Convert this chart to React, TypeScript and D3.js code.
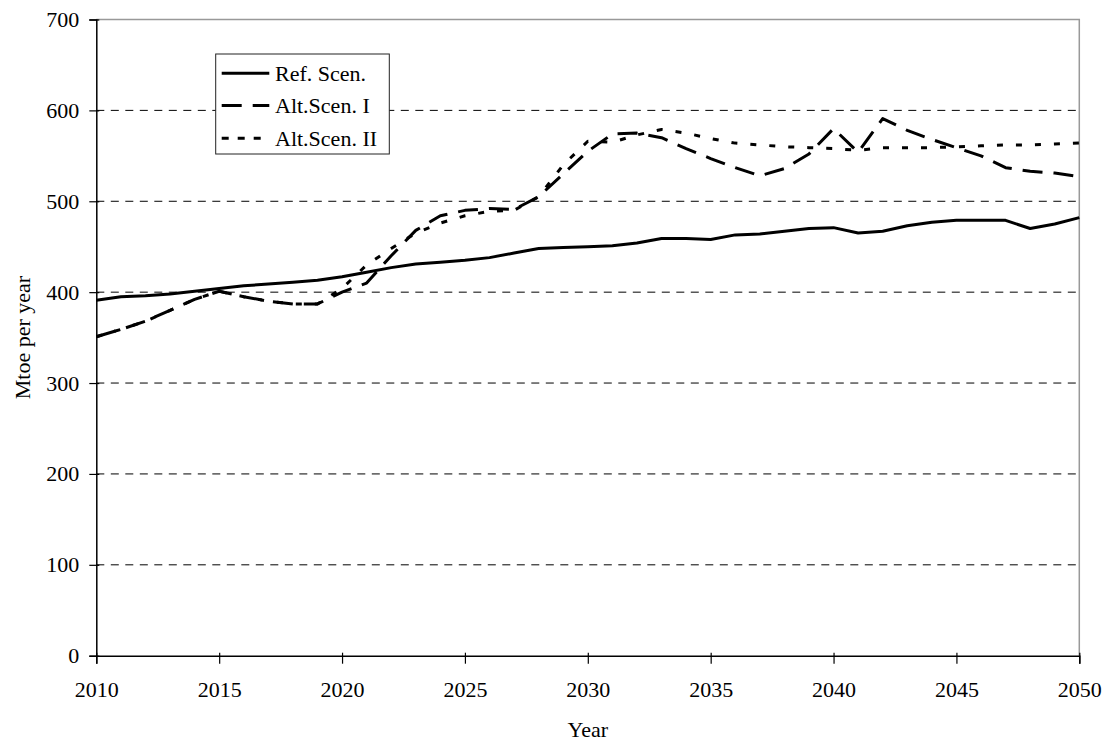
import { useRef, useEffect } from "react";
import * as d3 from "d3";

// Years on the x axis, one value per year
const years: number[] = d3.range(2010, 2051);

// Ref. Scen. (solid)
const refScen: number[] = [
  391, 395, 396, 398, 401, 404, 407, 409, 411, 413,
  417, 422, 427, 431, 433, 435, 438, 443, 448, 449,
  450, 451, 454, 459, 459, 458, 463, 464, 467, 470,
  471, 465, 467, 473, 477, 479, 479, 479, 470, 475, 482
];

// Alt.Scen. I (long dashes)
const altScen1: number[] = [
  351, 359, 368, 380, 392, 401, 395, 390, 387, 387,
  400, 410, 440, 468, 484, 490, 492, 491, 505, 530,
  555, 574, 575, 570, 558, 547, 537, 528, 536, 552,
  580, 554, 591, 578, 568, 559, 550, 537, 533, 531, 527
];

// Alt.Scen. II (short dashes)
const altScen2: number[] = [
  351, 359, 368, 380, 392, 401, 395, 390, 387, 387,
  404, 430, 448, 465, 476, 484, 489, 490, 505, 540,
  566, 565, 573, 579, 575, 569, 564, 562, 560, 559,
  558, 556, 559, 559, 559, 560, 561, 562, 562, 563, 564
];

const seriesNames: string[] = ["Ref. Scen.", "Alt.Scen. I", "Alt.Scen. II"];
const xTicks: number[] = [2010, 2015, 2020, 2025, 2030, 2035, 2040, 2045, 2050];
const yTicks: number[] = [0, 100, 200, 300, 400, 500, 600, 700];

export default function App() {
  const ref = useRef<SVGSVGElement>(null);

  const chartAttr = {
    width: 1111,
    height: 742,
    left: 96.3,
    right: 1079.3,
    top: 19.5,
    bottom: 655.7,
    font: "'Liberation Serif', 'Times New Roman', serif",
    fontSize: 22
  };

  useEffect(() => {
    const svg = d3.select(ref.current);
    svg.selectAll("*").remove();

    const x = d3.scaleLinear().domain([2010, 2050]).range([chartAttr.left, chartAttr.right]);
    const y = d3.scaleLinear().domain([0, 700]).range([chartAttr.bottom, chartAttr.top]);

    // dashed gridlines
    svg.append("g")
      .selectAll("line")
      .data(yTicks.filter(t => t > 0 && t < 700))
      .enter()
      .append("line")
      .attr("x1", chartAttr.left)
      .attr("x2", chartAttr.right)
      .attr("y1", d => y(d))
      .attr("y2", d => y(d))
      .attr("stroke", "#000")
      .attr("stroke-width", 1)
      .attr("stroke-dasharray", "8,6.5");

    // gray frame at top and right
    svg.append("path")
      .attr("d", `M${chartAttr.left},${chartAttr.top}H${chartAttr.right}V${chartAttr.bottom}`)
      .attr("fill", "none")
      .attr("stroke", "#999")
      .attr("stroke-width", 1.5);

    // axes
    const yAxis = d3.axisLeft(y).tickValues(yTicks).tickSize(7).tickPadding(10).tickFormat(d3.format("d"));
    const xAxis = d3.axisBottom(x).tickValues(xTicks).tickSize(8).tickPadding(18).tickFormat(d3.format("d"));

    const gy = svg.append("g")
      .attr("transform", `translate(${chartAttr.left},0)`)
      .call(yAxis);
    const gx = svg.append("g")
      .attr("transform", `translate(0,${chartAttr.bottom})`)
      .call(xAxis);

    [gx, gy].forEach(g => {
      g.select(".domain").attr("stroke", "#000").attr("stroke-width", 1.5);
      g.selectAll(".tick line").attr("stroke", "#000").attr("stroke-width", 1.2);
      g.selectAll("text")
        .attr("fill", "#000")
        .style("font-family", chartAttr.font)
        .style("font-size", chartAttr.fontSize + "px");
    });
    // ticks slightly cross the axes
    gy.selectAll(".tick line").attr("x2", -7).attr("x1", 3);
    gx.selectAll(".tick line").attr("y1", -3);

    // lines
    const styles = [
      { data: refScen, dash: null },
      { data: altScen1, dash: "20,11" },
      { data: altScen2, dash: "6,13" }
    ];
    const line = d3.line<number>()
      .x((d, i) => x(years[i]))
      .y(d => y(d));

    styles.forEach(s => {
      svg.append("path")
        .datum(s.data)
        .attr("d", line)
        .attr("fill", "none")
        .attr("stroke", "#000")
        .attr("stroke-width", 3)
        .attr("stroke-linejoin", "round")
        .attr("stroke-dasharray", s.dash);
    });

    // axis titles
    svg.append("text")
      .attr("x", (chartAttr.left + chartAttr.right) / 2)
      .attr("y", 737)
      .attr("text-anchor", "middle")
      .style("font-family", chartAttr.font)
      .style("font-size", chartAttr.fontSize + "px")
      .text("Year");

    svg.append("text")
      .attr("transform", `translate(30,${(chartAttr.top + chartAttr.bottom) / 2}) rotate(-90)`)
      .attr("text-anchor", "middle")
      .style("font-family", chartAttr.font)
      .style("font-size", chartAttr.fontSize + "px")
      .text("Mtoe per year");

    // legend
    const legend = svg.append("g");
    legend.append("rect")
      .attr("x", 215.7)
      .attr("y", 54)
      .attr("width", 173.6)
      .attr("height", 100)
      .attr("fill", "#fff")
      .attr("stroke", "#222")
      .attr("stroke-width", 1);

    const rowY = [73.3, 105.5, 138.3];
    styles.forEach((s, i) => {
      legend.append("line")
        .attr("x1", 221.7)
        .attr("x2", 269.3)
        .attr("y1", rowY[i])
        .attr("y2", rowY[i])
        .attr("stroke", "#000")
        .attr("stroke-width", 3)
        .attr("stroke-dasharray", i === 2 ? "7,9" : s.dash);
      legend.append("text")
        .attr("x", 275)
        .attr("y", rowY[i])
        .attr("dy", "0.35em")
        .style("font-family", chartAttr.font)
        .style("font-size", chartAttr.fontSize + "px")
        .text(seriesNames[i]);
    });
  }, []);

  return (
    <div>
      <svg
        ref={ref}
        width={chartAttr.width}
        height={chartAttr.height}
        style={{ position: "absolute", left: 0, top: 0, background: "#fff" }}
      />
    </div>
  );
}
